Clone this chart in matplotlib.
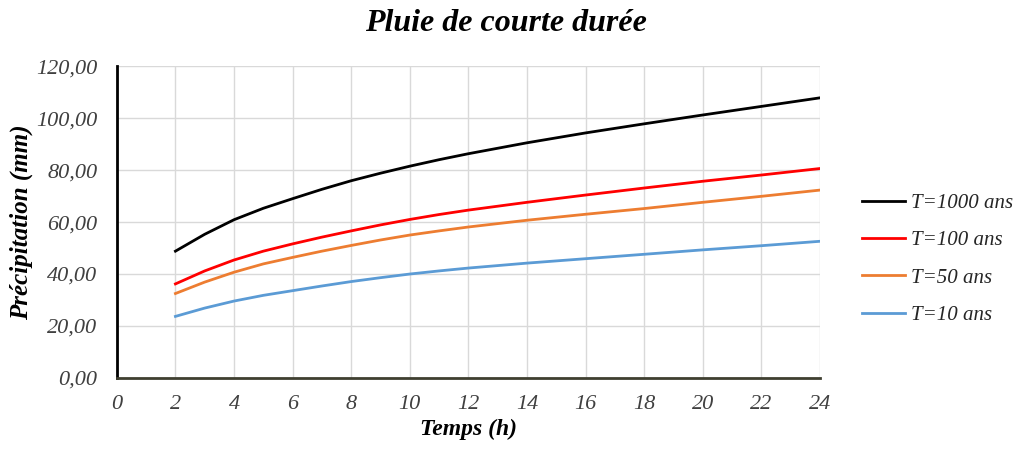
import matplotlib
matplotlib.use('Agg')
import numpy as np
import matplotlib.pyplot as plt
from matplotlib.ticker import FuncFormatter

# durations (h) and precipitation (mm) for each return period
temps = [2, 3, 4, 5, 6, 7, 8, 9, 10, 11, 12, 14, 16, 18, 20, 22, 24]
t1000 = [48.8, 55.3, 60.9, 65.3, 69.0, 72.6, 75.9, 78.8, 81.5, 84.0, 86.3, 90.5, 94.3, 97.8, 101.2, 104.5, 107.8]
t100 = [36.2, 41.2, 45.4, 48.8, 51.6, 54.2, 56.6, 58.9, 61.0, 62.9, 64.6, 67.6, 70.4, 73.1, 75.7, 78.1, 80.6]
t50 = [32.5, 36.9, 40.7, 43.9, 46.4, 48.8, 51.0, 53.1, 55.0, 56.6, 58.1, 60.7, 63.0, 65.2, 67.6, 69.9, 72.3]
t10 = [23.7, 26.9, 29.6, 31.8, 33.6, 35.4, 37.1, 38.6, 40.0, 41.2, 42.3, 44.2, 45.9, 47.6, 49.3, 50.9, 52.6]

series = [
    ('T=1000 ans', t1000, '#000000'),
    ('T=100 ans', t100, '#ff0000'),
    ('T=50 ans', t50, '#ed7d31'),
    ('T=10 ans', t10, '#5b9bd5'),
]

serif = 'Liberation Serif'

fig = plt.figure(figsize=(10.16, 4.53), dpi=100)
ax = fig.add_axes([0.115, 0.1656, 0.692, 0.6884])

for name, vals, col in series:
    ax.plot(temps, vals, color=col, lw=2, label=name, solid_joinstyle='round')

ax.set_xlim(0, 24)
ax.set_ylim(0, 120)
ax.set_xticks(np.arange(0, 25, 2))
ax.set_yticks(np.arange(0, 121, 20))
ax.yaxis.set_major_formatter(FuncFormatter(lambda v, p: ('%.2f' % v).replace('.', ',')))
ax.grid(True, color='#d9d9d9', lw=1)
ax.set_axisbelow(True)

for s in ['top', 'right']:
    ax.spines[s].set_visible(False)
ax.spines['left'].set_linewidth(2)
ax.spines['bottom'].set_linewidth(2)
ax.spines['bottom'].set_color('#3f3f30')
ax.tick_params(axis='y', length=0, pad=14, labelsize=16, labelcolor='#404040')
ax.tick_params(axis='x', length=0, pad=12, labelsize=16, labelcolor='#404040')
for lab in ax.get_xticklabels() + ax.get_yticklabels():
    lab.set_fontfamily(serif)
    lab.set_fontstyle('italic')

ax.set_xlabel('Temps (h)', fontsize=17, fontfamily=serif, fontstyle='italic', fontweight='bold', labelpad=4)
ax.set_ylabel('Précipitation (mm)', fontsize=18, fontfamily=serif, fontstyle='italic', fontweight='bold', labelpad=2)
fig.suptitle('Pluie de courte durée', x=0.498, y=0.98, fontsize=23, fontfamily=serif, fontstyle='italic', fontweight='bold')

leg = fig.legend(loc='center left', bbox_to_anchor=(0.848, 0.428), bbox_transform=fig.transFigure,
                 frameon=False, borderpad=0, borderaxespad=0,
                 handlelength=2.1, handletextpad=0.25, labelspacing=0.85,
                 prop={'family': serif, 'style': 'italic', 'size': 15})
for t in leg.get_texts():
    t.set_color('#262626')

fig.savefig('out.png', dpi=100)
